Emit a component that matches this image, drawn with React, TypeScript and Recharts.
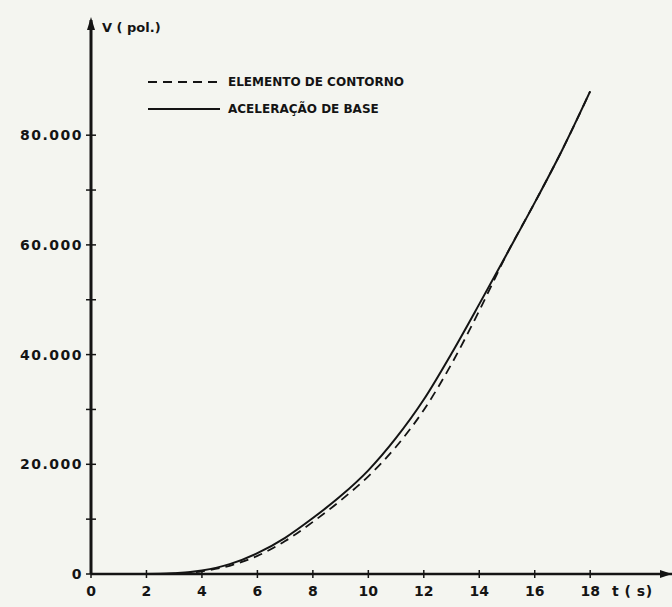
import { LineChart, Line, XAxis, YAxis, ReferenceDot, Legend } from "recharts";

// tempo t (s)
const tempos = [0, 1, 2, 3, 4, 5, 6, 7, 8, 9, 10, 11, 12, 13, 14, 15, 16, 17, 18];
// deslocamento V (pol.) - elemento de contorno (tracejada)
const elementoContorno = [0, 0, 0, 80, 500, 1500, 3300, 6000, 9500, 13400, 17800, 23200, 29900, 38300, 48000, 58400, 67700, 77400, 88000];
// deslocamento V (pol.) - aceleração de base (cheia)
const aceleracaoBase = [0, 0, 0, 120, 650, 1800, 3800, 6600, 10200, 14200, 18900, 24800, 31800, 40200, 49200, 58400, 67700, 77400, 88000];

const xTicks = [0, 2, 4, 6, 8, 10, 12, 14, 16, 18];
const yTicks = [0, 10000, 20000, 30000, 40000, 50000, 60000, 70000, 80000];

const data = tempos.map((t, i) => ({
  t,
  contorno: elementoContorno[i],
  base: aceleracaoBase[i],
}));

const INK = "#141414";
const FONT = "'DejaVu Sans', sans-serif";

const fmtY = (v: number) => (v === 0 ? "0" : v % 20000 === 0 ? `${v / 1000}.000` : "");

function XTick({ x, y, payload }: any) {
  return (
    <g>
      <line x1={x} x2={x} y1={y - 4} y2={y + 4} stroke={INK} strokeWidth={1.5} />
      <text x={x} y={y + 22} textAnchor="middle" fontFamily={FONT} fontWeight="bold" fontSize={14} fill={INK}>
        {payload.value}
      </text>
    </g>
  );
}

function YTick({ x, y, payload }: any) {
  const label = fmtY(payload.value);
  return (
    <g>
      <line x1={x - 5} x2={x + 5} y1={y} y2={y} stroke={INK} strokeWidth={1.5} />
      {label && (
        <text x={x - 8} y={y + 5} textAnchor="end" fontFamily={FONT} fontWeight="bold" fontSize={14} letterSpacing={1.5} fill={INK}>
          {label}
        </text>
      )}
    </g>
  );
}

const ArrowUp = ({ cx, cy }: any) => (
  <g>
    <polygon points={`${cx},${cy - 3} ${cx - 4},${cy + 10} ${cx + 4},${cy + 10}`} fill={INK} />
    <text x={cx + 11} y={cy + 12} fontFamily={FONT} fontWeight="bold" fontSize={13} fill={INK}>
      V ( pol.)
    </text>
  </g>
);

const ArrowRight = ({ cx, cy }: any) => (
  <g>
    <polygon points={`${cx},${cy} ${cx - 12},${cy - 4} ${cx - 12},${cy + 4}`} fill={INK} />
    <text x={cx - 60} y={cy + 22} fontFamily={FONT} fontWeight="bold" fontSize={14} letterSpacing={0.5} fill={INK}>
      t ( s)
    </text>
  </g>
);

const legendItems = [
  { key: "contorno", label: "ELEMENTO DE CONTORNO", dash: "9 6" },
  { key: "base", label: "ACELERAÇÃO DE BASE", dash: undefined },
];

function LegendBox() {
  return (
    <div style={{ fontFamily: FONT, fontWeight: "bold", fontSize: 12, color: INK }}>
      {legendItems.map((it) => (
        <div key={it.key} style={{ display: "flex", alignItems: "center", height: 27 }}>
          <svg width={76} height={10}>
            <line x1={0} x2={72} y1={5} y2={5} stroke={INK} strokeWidth={1.8} strokeDasharray={it.dash} />
          </svg>
          <span style={{ marginLeft: 4 }}>{it.label}</span>
        </div>
      ))}
    </div>
  );
}

export default function App() {
  return (
    <div style={{ position: "absolute", left: 0, top: 0, width: 672, height: 607, background: "#f4f5f0" }}>
      <LineChart width={672} height={607} data={data} margin={{ top: 20, right: 0, left: 0, bottom: 0 }}>
        <XAxis
          type="number"
          dataKey="t"
          domain={[0, 20.95]}
          ticks={xTicks}
          height={33}
          tickSize={0}
          tickMargin={0}
          tickLine={false}
          tick={<XTick />}
          axisLine={{ stroke: INK, strokeWidth: 2.5 }}
          allowDataOverflow
        />
        <YAxis
          type="number"
          domain={[0, 101000]}
          ticks={yTicks}
          width={91}
          tickSize={0}
          tickMargin={0}
          tickLine={false}
          tick={<YTick />}
          axisLine={{ stroke: INK, strokeWidth: 3 }}
          allowDataOverflow
        />
        <Legend
          layout="vertical"
          align="center"
          verticalAlign="middle"
          content={() => <LegendBox />}
          wrapperStyle={{ position: "absolute", top: 68, left: 148, width: 300 }}
        />
        <Line
          name="ELEMENTO DE CONTORNO"
          type="monotone"
          dataKey="contorno"
          stroke={INK}
          strokeWidth={1.8}
          strokeDasharray="9 6"
          dot={false}
          isAnimationActive={false}
        />
        <Line
          name="ACELERAÇÃO DE BASE"
          type="monotone"
          dataKey="base"
          stroke={INK}
          strokeWidth={2}
          dot={false}
          isAnimationActive={false}
        />
        <ReferenceDot x={0} y={101000} r={0} shape={<ArrowUp />} ifOverflow="visible" />
        <ReferenceDot x={20.95} y={0} r={0} shape={<ArrowRight />} ifOverflow="visible" />
      </LineChart>
    </div>
  );
}
